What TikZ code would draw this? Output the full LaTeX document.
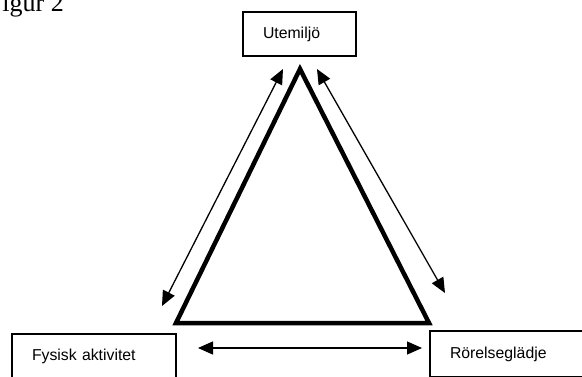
\documentclass[tikz,border=0pt]{standalone}
\usepackage{fontspec}
\setmainfont{Liberation Serif}
\setsansfont{Liberation Sans}
\usetikzlibrary{positioning,arrows.meta}

\begin{document}
\begin{tikzpicture}[x=1pt,y=-1pt,>={Triangle[length=15pt,width=13pt]},
    box/.style={draw, rectangle, line width=1.2pt, inner xsep=20pt, align=left,
      font=\sffamily\fontsize{15.8}{18}\selectfont},
    link/.style={<->, line width=1.3pt}]
  \useasboundingbox (0,0) rectangle (582,376);
  \node[anchor=base east, inner sep=0pt, font=\fontsize{26}{30}\selectfont] (title) at (64,11) {Figur 2};

  \node[box, text width=73pt, minimum height=44pt] (ute) at (299.5,34) {Utemiljö};
  \node[box, text width=124pt, minimum height=44pt] (fysisk) at (94,356) {Fysisk aktivitet};
  \node[box, text width=120pt, minimum height=46pt] (rorelse) at (510,354) {Rörelseglädje};

  % triangle
  \coordinate (top) at (300,69);
  \coordinate (bl) at (176,323);
  \coordinate (br) at (429,323);
  \draw[line width=4.5pt, line join=miter] (top) -- (br) -- (bl) -- cycle;

  % two-way arrows
  \coordinate (la) at (283,69);
  \coordinate (lb) at (162,306);
  \coordinate (ra) at (317,69);
  \coordinate (rb) at (445,293);
  \coordinate (ha) at (198,348);
  \coordinate (hb) at (422,348);
  \draw[link] (la) -- (lb);
  \draw[link] (ra) -- (rb);
  \draw[link] (ha) -- (hb);
\end{tikzpicture}
\end{document}
